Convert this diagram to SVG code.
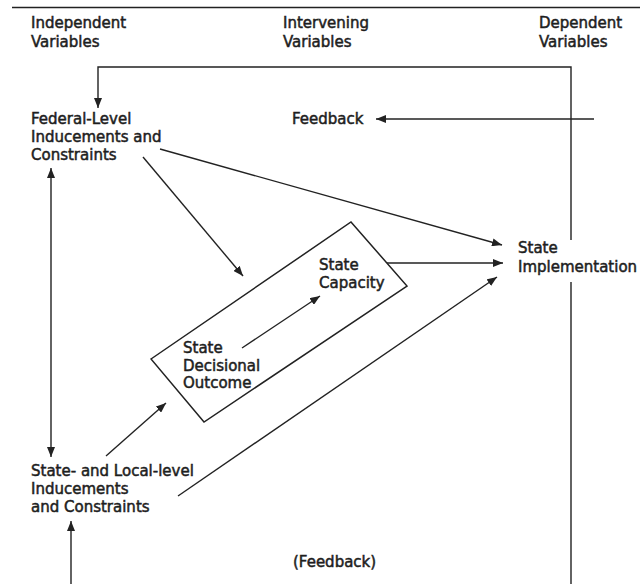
<svg xmlns="http://www.w3.org/2000/svg" width="640" height="584" viewBox="0 0 640 584">
<defs>
<style>
text{font-family:"DejaVu Sans","Liberation Sans",sans-serif;font-size:15px;fill:#1e1e1e;stroke:#1e1e1e;stroke-width:0.5}
.ln{fill:none;stroke:#222;stroke-width:1.4}
.box{fill:none;stroke:#222;stroke-width:1.5}
</style>
<marker id="ah" markerUnits="userSpaceOnUse" markerWidth="11" markerHeight="8" refX="10" refY="4" orient="auto-start-reverse">
<path d="M0,0 L10,4 L0,8 z" fill="#222"/>
</marker>
</defs>
<g id="header">
<line x1="12" y1="7.5" x2="640" y2="7.5" stroke="#222" stroke-width="1.6"/>
<text x="31" y="28">Independent</text>
<text x="31" y="47">Variables</text>
<text x="283" y="28">Intervening</text>
<text x="283" y="47">Variables</text>
<text x="539" y="28">Dependent</text>
<text x="539" y="47">Variables</text>
</g>
<g id="connectors">
<polyline class="ln" points="571,240 571,67 98,67 98,108" marker-end="url(#ah)"/>
<line class="ln" x1="594" y1="119" x2="376" y2="119" marker-end="url(#ah)"/>
<line class="ln" x1="571" y1="282" x2="571" y2="584"/>
<line class="ln" x1="160" y1="149" x2="502" y2="245" marker-end="url(#ah)"/>
<line class="ln" x1="143" y1="157" x2="243" y2="276" marker-end="url(#ah)"/>
<line class="ln" x1="387" y1="263" x2="503" y2="263" marker-end="url(#ah)"/>
<line class="ln" x1="178" y1="496" x2="497" y2="277" marker-end="url(#ah)"/>
<line class="ln" x1="106" y1="456" x2="166" y2="403" marker-end="url(#ah)"/>
<line class="ln" x1="242" y1="348" x2="320" y2="296" marker-end="url(#ah)"/>
<line class="ln" x1="51" y1="168" x2="51" y2="457" marker-start="url(#ah)" marker-end="url(#ah)"/>
<line class="ln" x1="71" y1="584" x2="71" y2="521" marker-end="url(#ah)"/>
</g>
<g id="federal">
<text x="31" y="124">Federal-Level</text>
<text x="31" y="142">Inducements and</text>
<text x="31" y="160">Constraints</text>
</g>
<g id="feedback-top">
<text x="292" y="124">Feedback</text>
</g>
<g id="state-box">
<polygon class="box" points="151,359 351,222 407,286 204,422"/>
</g>
<g id="state-capacity">
<text x="319" y="270">State</text>
<text x="319" y="288">Capacity</text>
</g>
<g id="state-decisional">
<text x="183" y="353">State</text>
<text x="183" y="371">Decisional</text>
<text x="183" y="388">Outcome</text>
</g>
<g id="state-implementation">
<text x="518" y="253">State</text>
<text x="518" y="272">Implementation</text>
</g>
<g id="state-local">
<text x="31" y="476">State- and Local-level</text>
<text x="31" y="494">Inducements</text>
<text x="31" y="512">and Constraints</text>
</g>
<g id="feedback-bottom">
<text x="293" y="567">(Feedback)</text>
</g>
</svg>
